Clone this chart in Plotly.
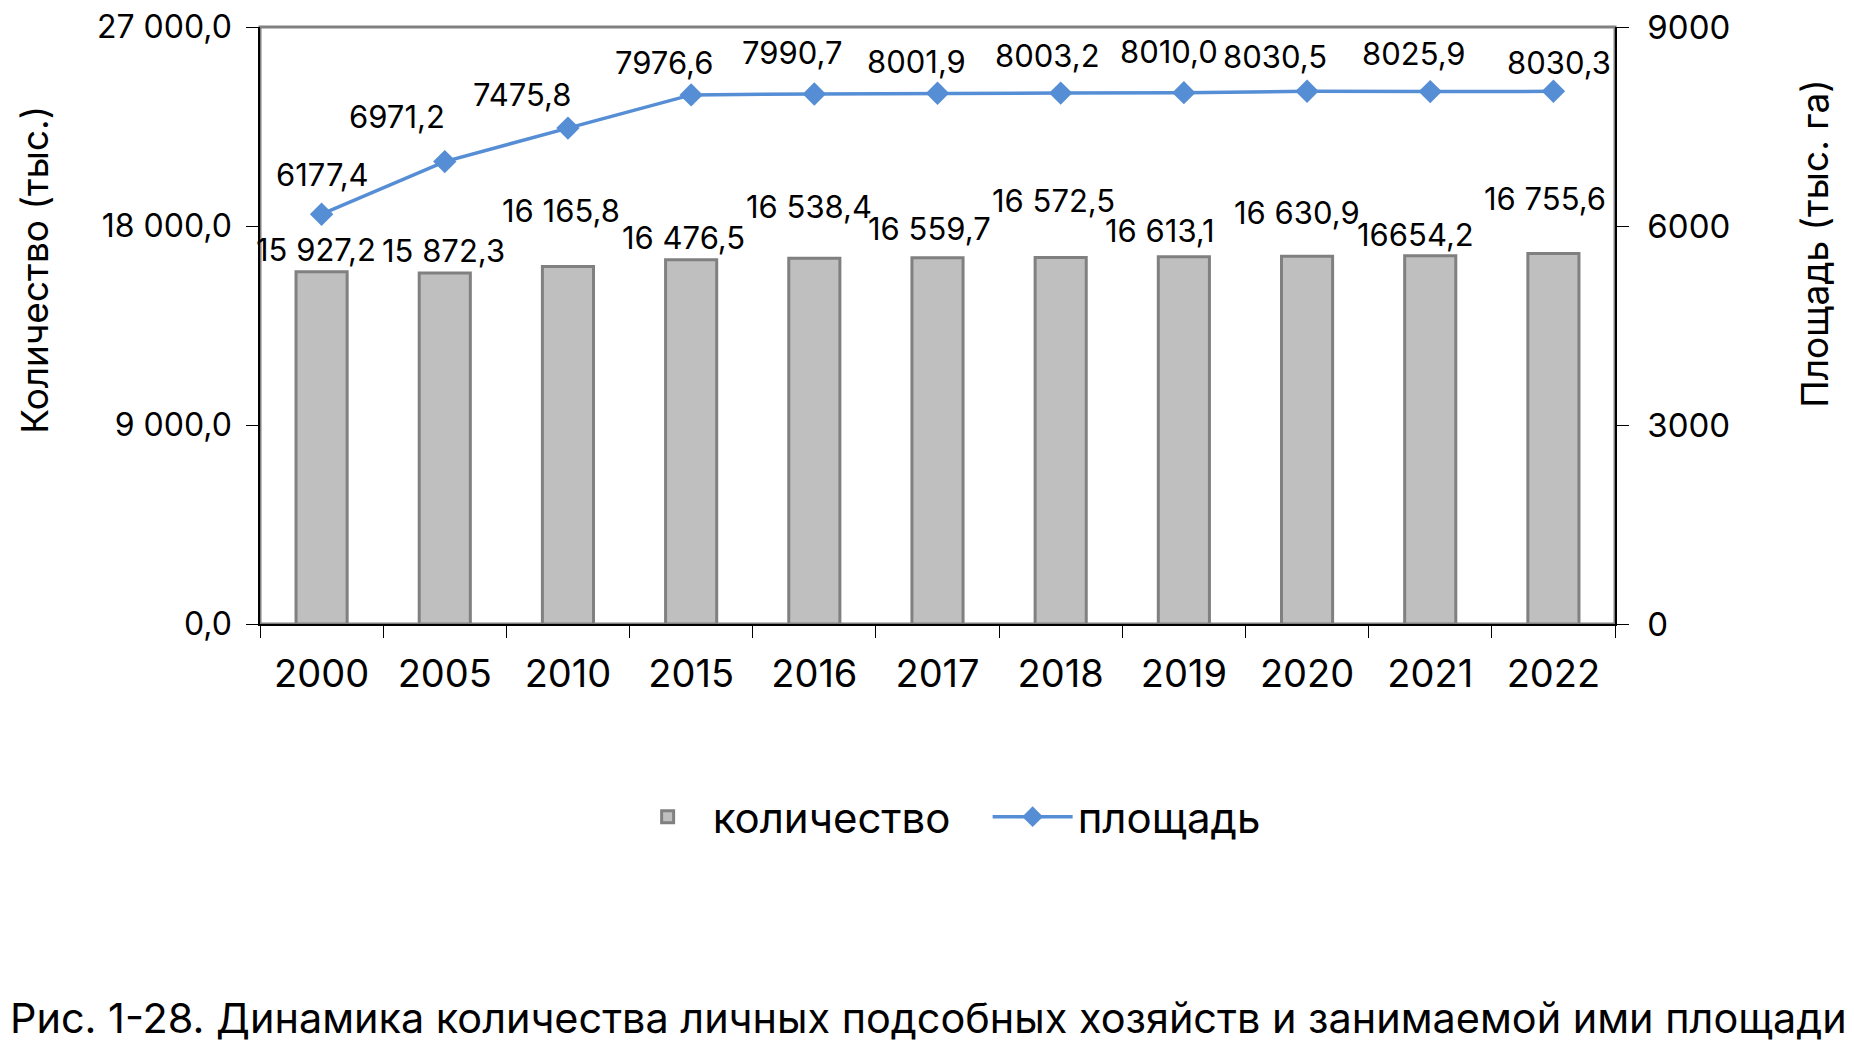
import plotly.graph_objects as go

# ---- data ----
years = ["2000", "2005", "2010", "2015", "2016", "2017", "2018", "2019", "2020", "2021", "2022"]
count_values = [15927.2, 15872.3, 16165.8, 16476.5, 16538.4, 16559.7, 16572.5, 16613.1, 16630.9, 16654.2, 16755.6]
area_values = [6177.4, 6971.2, 7475.8, 7976.6, 7990.7, 8001.9, 8003.2, 8010.0, 8030.5, 8025.9, 8030.3]
count_labels = ["15 927,2", "15 872,3", "16 165,8", "16 476,5", "16 538,4", "16 559,7",
                "16 572,5", "16 613,1", "16 630,9", "16654,2", "16 755,6"]
area_labels = ["6177,4", "6971,2", "7475,8", "7976,6", "7990,7", "8001,9",
               "8003,2", "8010,0", "8030,5", "8025,9", "8030,3"]
left_tickvals = [0, 9000, 18000, 27000]
left_ticktext = ["0,0", "9 000,0", "18 000,0", "27 000,0"]
right_tickvals = [0, 3000, 6000, 9000]
right_ticktext = ["0", "3000", "6000", "9000"]

# manual label offsets (px) as placed in the original chart
count_label_dx = [-6, -1, -7, -8, -5, -8, -7, -24, -10, -15, -8]
count_label_dy = [22, 23, 56, 22, 52, 29, 57, 26, 44, 21, 55]
area_label_dx = [1, -48, -46, -27, -22, -21, -13, -15, -32, -16, 6]
area_label_dy = [40, 45, 34, 32, 41, 32, 38, 41, 35, 38, 29]

FONT = "Inter"
LINE_COLOR = "#558ED5"
LABEL_SIZE = 31

fig = go.Figure()
fig.add_trace(go.Bar(
    x=years, y=count_values, name="количество",
    marker=dict(color="#BFBFBF", line=dict(color="#808080", width=3)),
    yaxis="y",
))
fig.add_trace(go.Scatter(
    x=years, y=area_values, name="площадь", mode="lines+markers",
    line=dict(color=LINE_COLOR, width=3.5),
    marker=dict(symbol="diamond", size=18, color=LINE_COLOR),
    yaxis="y2",
))

annotations = []
for i, (v, t, dx, dy) in enumerate(zip(count_values, count_labels, count_label_dx, count_label_dy)):
    annotations.append(dict(x=i, y=v, xref="x", yref="y", text=t, showarrow=False,
                            xshift=dx, yshift=dy, font=dict(family=FONT, size=LABEL_SIZE, color="black")))
for i, (v, t, dx, dy) in enumerate(zip(area_values, area_labels, area_label_dx, area_label_dy)):
    annotations.append(dict(x=i, y=v, xref="x", yref="y2", text=t, showarrow=False,
                            xshift=dx, yshift=dy, font=dict(family=FONT, size=LABEL_SIZE, color="black")))

# axis titles and caption
annotations.append(dict(text="Количество (тыс.)", xref="paper", yref="paper", x=-0.166, y=0.5935,
                        textangle=-90, showarrow=False, xanchor="center", yanchor="middle",
                        font=dict(family=FONT, size=37, color="black")))
annotations.append(dict(text="Площадь (тыс. га)", xref="paper", yref="paper", x=1.1476, y=0.637,
                        textangle=-90, showarrow=False, xanchor="center", yanchor="middle",
                        font=dict(family=FONT, size=37, color="black")))
annotations.append(dict(text="Рис. 1-28. Динамика количества личных подсобных хозяйств и занимаемой ими площади",
                        xref="paper", yref="paper", x=-0.186, y=-0.6605, showarrow=False,
                        xanchor="left", yanchor="middle",
                        font=dict(family=FONT, size=41.4, color="black")))

fig.update_layout(
    width=1854, height=1059,
    margin=dict(l=252, r=247, t=19, b=443, autoexpand=False),
    paper_bgcolor="white", plot_bgcolor="white",
    font=dict(family=FONT, color="black"),
    bargap=0.585,
    showlegend=True,
    legend=dict(orientation="h", x=0.537, xanchor="center", y=-0.323, yanchor="middle",
                font=dict(family=FONT, size=42, color="black"), itemwidth=80,
                entrywidth=270, entrywidthmode="pixels",
                traceorder="normal"),
    xaxis=dict(type="category", range=[-0.5, len(years) - 0.5], tickson="boundaries",
               ticks="outside", ticklen=12, automargin=False,
               tickcolor="black", tickwidth=1, showline=True, linecolor="black", linewidth=1.5,
               showgrid=False, tickfont=dict(family=FONT, size=38, color="black"),
               ticklabelstandoff=16, tickangle=0),
    yaxis=dict(range=[0, 27000], tickvals=left_tickvals, ticktext=left_ticktext,
               ticks="outside", ticklen=12, tickcolor="black", showline=True, linecolor="black",
               linewidth=1.5, showgrid=False, zeroline=False, ticklabeloverflow="allow",
               automargin=False,
               tickfont=dict(family=FONT, size=32, color="black"), ticklabelstandoff=8),
    yaxis2=dict(range=[0, 9000], tickvals=right_tickvals, ticktext=right_ticktext,
                overlaying="y", side="right", ticklabeloverflow="allow", automargin=False,
                ticks="outside", ticklen=12, tickcolor="black", showline=True, linecolor="black",
                linewidth=1.5, showgrid=False, zeroline=False,
                tickfont=dict(family=FONT, size=33, color="black"), ticklabelstandoff=12),
    annotations=annotations,
    shapes=[dict(type="rect", xref="paper", yref="paper", x0=0, x1=1, y0=0, y1=1,
                 line=dict(color="#808080", width=3), layer="below")],
)

fig.write_html("out.html")
